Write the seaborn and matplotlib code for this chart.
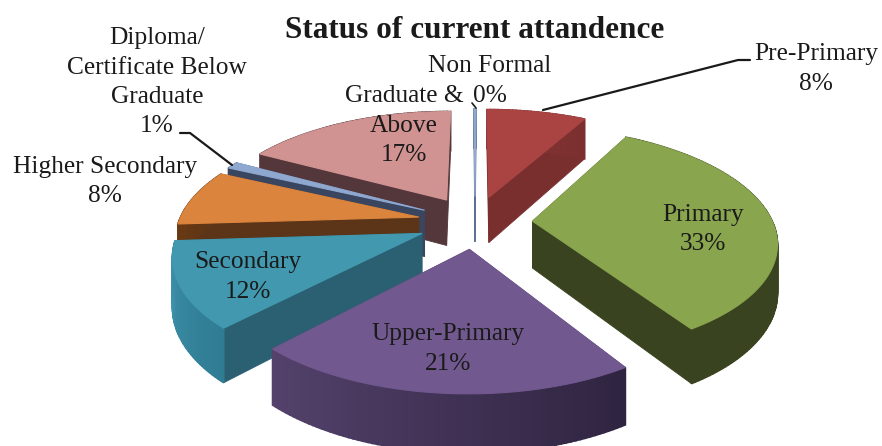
import numpy as np
import matplotlib
matplotlib.use('Agg')
import matplotlib.pyplot as plt
import seaborn as sns

categories=['Pre-Primary','Primary','Upper-Primary','Secondary','Higher Secondary','Diploma/\nCertificate Below\nGraduate','Graduate &\nAbove','Non Formal']
values=[8,33,21,12,8,1,17,0]

top_colors=['#A94442','#89A54E','#71588F','#4198AF','#DB843D','#8FA8D0','#D19392','#93A9CF']
radial_colors=['#7A2F2F','#3A431F','#54426C','#2B5F72','#5C3518','#3A4660','#53373B','#5A7090']
arc_left=['#8A3736','#3A431F','#54426C','#3F93AB','#6B3A12','#3A4660','#53373B','#5A7090']
arc_right=['#7A2F2F','#3A431F','#2F2440','#2F7C93','#5C3518','#3A4660','#53373B','#5A7090']

# centre x and baseline of the first line of each label
label_xy=[(816,60),(703,221),(448,340),(248,268),(105,173),(157,44),(404,102),(490,72)]
line_pitch=29.5
title='Status of current attandence'

cx,cy=475,222
rx,ry=240,110
persp=0.167
explode=0.24
depth=47

def project(X,Y,z=0):
    s=1/(1+persp*Y)
    return cx+rx*X*s,cy-ry*Y*s+z*s

def slice_geometry(a0,a1):
    mid=np.radians((a0+a1)/2)
    ex,ey=explode*np.sin(mid),explode*np.cos(mid)
    th=np.radians(np.linspace(a0,a1,max(int(a1-a0),2)))
    return ex,ey,ex+np.sin(th),ey+np.cos(th)

def draw_slice(ax,i,a0,a1,z):
    ex,ey,X,Y=slice_geometry(a0,a1)
    ax_,ay_=project(ex,ey)
    bx,by=project(ex,ey,depth)
    xt,yt=project(X,Y)
    xb,yb=project(X,Y,depth)
    # radial walls
    for k in (0,-1):
        ax.fill([ax_,xt[k],xb[k],bx],[ay_,yt[k],yb[k],by],color=radial_colors[i],lw=0.6,zorder=z)
    # outer wall, shaded piece by piece from left to right
    shades=sns.blend_palette([arc_left[i],arc_right[i]],len(X))
    ranks=np.argsort(np.argsort(xt))
    for k in range(len(X)-1):
        ax.fill([xt[k],xt[k+1],xb[k+1],xb[k]],[yt[k],yt[k+1],yb[k+1],yb[k]],color=shades[ranks[k]],lw=1.2,zorder=z)
    # top face
    ax.fill(np.r_[ax_,xt],np.r_[ay_,yt],facecolor=top_colors[i],edgecolor=top_colors[i],lw=0.8,zorder=z+0.5)

sns.set_theme(style='white')
plt.rcParams['font.family']=['Liberation Serif','DejaVu Serif']

fig=plt.figure(figsize=(8.82,4.46),dpi=100)
ax=fig.add_axes([0,0,1,1])
ax.set_xlim(0,882) ; ax.set_ylim(446,0) ; ax.axis('off')

edges=np.r_[0,np.cumsum(values)]/np.sum(values)*360
# back slices first so that the front ones cover them
mids=np.radians((edges[:-1]+edges[1:])/2)
for rank,i in enumerate(np.argsort(-np.cos(mids))):
    a0,a1=edges[i],edges[i+1]
    if values[i]==0:
        a0,a1=359.7,360.3
    draw_slice(ax,i,a0,a1,2+rank)

# leader lines
ax.plot([543,738,750],[110,60,60],color='k',lw=1.6,zorder=20)
ax.plot([180,190,232],[133,133,165],color='k',lw=1.6,zorder=20)
ax.plot([472,476],[103,108],color='k',lw=1.2,zorder=20)

for name,val,(x,y) in zip(categories,values,label_xy):
    lines=name.split('\n')+[str(val)+'%']
    for n,line in enumerate(lines):
        ax.text(x,y+n*line_pitch,line,ha='center',va='baseline',fontsize=18.3,color='k',zorder=21)
ax.text(475,38,title,ha='center',va='baseline',fontsize=22.5,weight='bold',color='k',zorder=21)

plt.savefig('out.png',dpi=100)
plt.close()
